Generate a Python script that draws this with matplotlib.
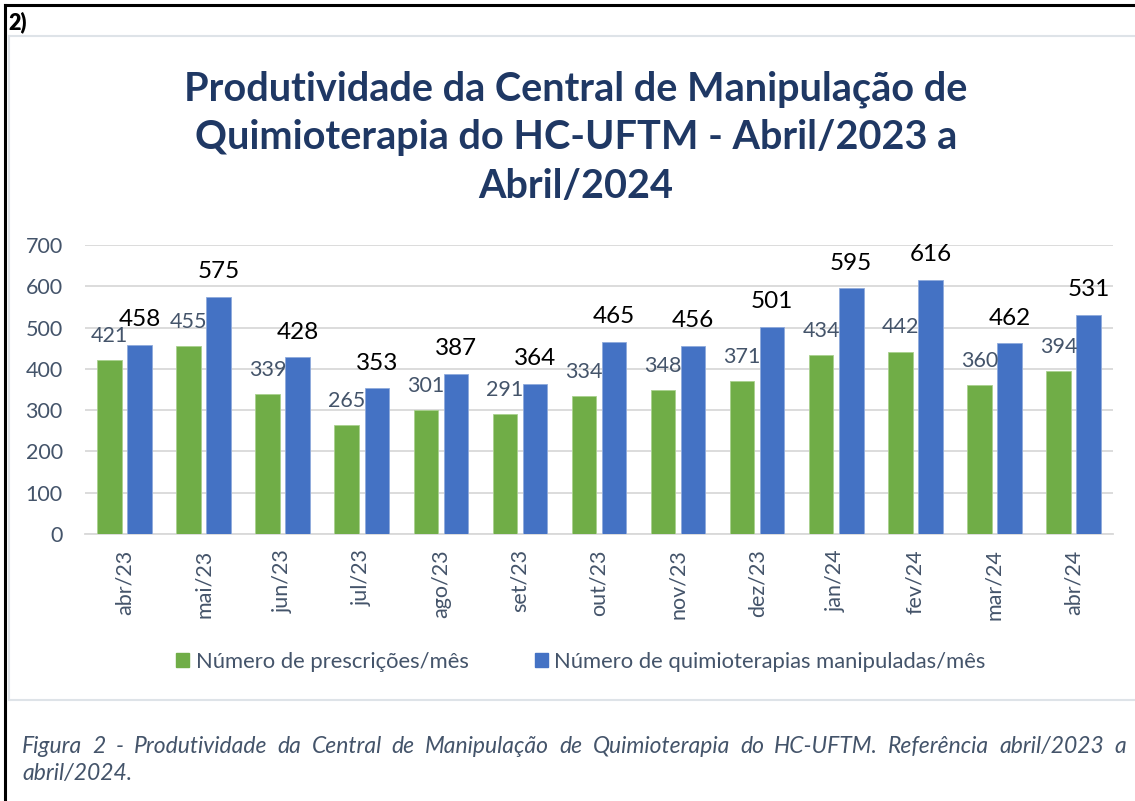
import matplotlib
matplotlib.use('Agg')
import numpy as np
import matplotlib.pyplot as plt
from matplotlib.lines import Line2D

# data
months = ['abr/23', 'mai/23', 'jun/23', 'jul/23', 'ago/23', 'set/23', 'out/23',
          'nov/23', 'dez/23', 'jan/24', 'fev/24', 'mar/24', 'abr/24']
prescricoes = [421, 455, 339, 265, 301, 291, 334, 348, 371, 434, 442, 360, 394]
quimioterapias = [458, 575, 428, 353, 387, 364, 465, 456, 501, 595, 616, 462, 531]

title_lines = ['Produtividade da Central de Manipulação de',
               'Quimioterapia do HC-UFTM - Abril/2023 a',
               'Abril/2024']
legend_labels = ['Número de prescrições/mês', 'Número de quimioterapias manipuladas/mês']
caption_1 = ('Figura 2 - Produtividade da Central de Manipulação de Quimioterapia '
             'do HC-UFTM. Referência abril/2023 a')
caption_2 = 'abril/2024.'

W, H = 1135, 801
GREEN = '#70AD47'
BLUE = '#4472C4'
TXT = '#44546A'
NAVY = '#1F3864'
GRID = '#D9D9D9'
FONT = 'Lato'

plt.rcParams['font.family'] = [FONT, 'DejaVu Sans']


def fx(px):
    return px / W


def fy(py):
    return 1 - py / H


fig = plt.figure(figsize=(W / 100, H / 100), dpi=100)

# outer frame (top + left black), chart box (light gray)
fig.add_artist(Line2D([fx(5), fx(W)], [fy(5), fy(5)], color='black', lw=2.2))
fig.add_artist(Line2D([fx(5), fx(5)], [fy(5), fy(H)], color='black', lw=2.2))
fig.add_artist(Line2D([fx(9), fx(W)], [fy(36), fy(36)], color='#DEE3E8', lw=1.5))
fig.add_artist(Line2D([fx(9), fx(W)], [fy(700), fy(700)], color='#DEE3E8', lw=1.5))
fig.add_artist(Line2D([fx(9), fx(9)], [fy(36), fy(700)], color='#DEE3E8', lw=1.5))

fig.text(fx(8), fy(29), '2)', fontsize=15.5, fontweight='heavy', color='black',
         ha='left', va='baseline')

# title
for i, line in enumerate(title_lines):
    fig.text(fx(576), fy(100 + i * 49), line, fontsize=28.5, fontweight='bold',
             color=NAVY, ha='center', va='baseline')

# axes
ax = fig.add_axes([fx(85), fy(534), fx(1113) - fx(85), fy(245) - fy(534)])
x = np.arange(len(months))
bw = 0.31
off = 0.19
ax.bar(x - off, prescricoes, bw, color=GREEN, edgecolor='#A9D18E', lw=0.6, zorder=3)
ax.bar(x + off, quimioterapias, bw, color=BLUE, edgecolor='#8FAADC', lw=0.6, zorder=3)

for xi, v in zip(x, prescricoes):
    ax.annotate(str(v), (xi - off, v), xytext=(0, 13), textcoords='offset points',
                ha='center', va='baseline', fontsize=15.5, color=TXT)
for xi, v in zip(x, quimioterapias):
    ax.annotate(str(v), (xi + off, v), xytext=(0, 13.5), textcoords='offset points',
                ha='center', va='baseline', fontsize=17.5, color='black')

ax.set_xlim(-0.5, len(months) - 0.5)
ax.set_ylim(0, 700)
ax.set_yticks(range(0, 701, 100))
ax.yaxis.grid(True, color=GRID, lw=1.3, zorder=0)
ax.set_axisbelow(True)
for s in ['top', 'right', 'left']:
    ax.spines[s].set_visible(False)
ax.spines['bottom'].set_color(GRID)
ax.spines['bottom'].set_linewidth(1.3)
ax.tick_params(axis='y', length=0, pad=16, labelsize=15.5, labelcolor=TXT)
ax.tick_params(axis='x', length=0, pad=11, labelsize=15.5, labelcolor=TXT)
ax.set_xticks(x)
ax.set_xticklabels(months, rotation=90, ha='center', va='top')

# legend
handles = [plt.Rectangle((0, 0), 1, 1, color=GREEN), plt.Rectangle((0, 0), 1, 1, color=BLUE)]
fig.legend(handles, legend_labels, loc='center', bbox_to_anchor=(fx(581), fy(662)),
           ncol=2, frameon=False, fontsize=15.8, labelcolor=TXT,
           handlelength=0.6, handleheight=0.6, handletextpad=0.3, columnspacing=3.0)

# caption, justified first line
fig.canvas.draw()
renderer = fig.canvas.get_renderer()
words = caption_1.split()
texts = [fig.text(0, fy(753), w, fontsize=16.5, style='italic', color=TXT,
                  ha='left', va='baseline') for w in words]
widths = [t.get_window_extent(renderer).width for t in texts]
left, right = 22, 1126
gap = (right - left - sum(widths)) / (len(words) - 1)
pos = left
for t, wd in zip(texts, widths):
    t.set_x(fx(pos))
    pos += wd + gap
fig.text(fx(left), fy(780), caption_2, fontsize=16.5, style='italic', color=TXT,
         ha='left', va='baseline')

fig.savefig('out.png', dpi=100)
